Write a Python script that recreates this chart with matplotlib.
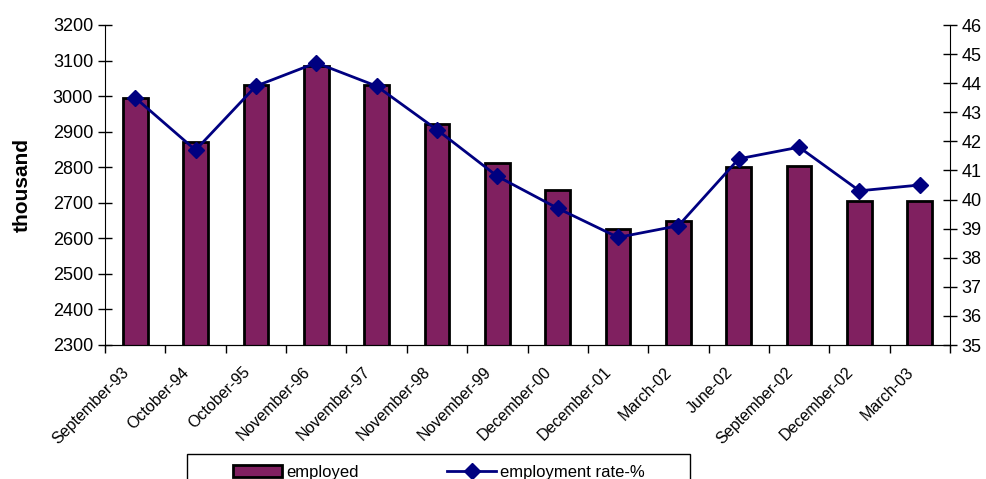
import matplotlib.pyplot as plt
import matplotlib.patches as patches
import matplotlib.transforms as mtransforms
import numpy as np

plt.rcParams['font.family'] = ['Liberation Sans', 'DejaVu Sans']

# data
periods = ['September-93', 'October-94', 'October-95', 'November-96', 'November-97',
           'November-98', 'November-99', 'December-00', 'December-01', 'March-02',
           'June-02', 'September-02', 'December-02', 'March-03']
employed = [2995, 2870, 3030, 3086, 3030, 2921, 2811, 2735, 2627, 2650,
            2800, 2804, 2705, 2705]
rate = [43.5, 41.7, 43.9, 44.7, 43.9, 42.4, 40.8, 39.7, 38.7, 39.1,
        41.4, 41.8, 40.3, 40.5]

W, H = 986, 479
fig = plt.figure(figsize=(W / 100, H / 100), dpi=100)
ax = fig.add_axes([105 / W, 1 - 345 / H, 845 / W, 320 / H])
x = np.arange(len(periods))

bars = ax.bar(x, employed, width=0.41, color='#802060', edgecolor='black',
              linewidth=2, label='employed', zorder=2)
ax.set_ylim(2300, 3200)
ax.set_xlim(-0.5, len(periods) - 0.5)
ax.set_yticks(range(2300, 3201, 100))
ax.set_ylabel('thousand', fontsize=15, fontweight='bold', labelpad=15)
ax.tick_params(axis='y', direction='inout', length=10, labelsize=13, width=1)

# x ticks between categories, labels at centres
ax.set_xticks(np.arange(-0.5, len(periods), 1))
ax.set_xticklabels([])
ax.tick_params(axis='x', direction='out', length=6, width=1)
ax.set_xticks(x, minor=True)
ax.set_xticklabels(periods, minor=True, rotation=45, ha='right',
                   rotation_mode='anchor', fontsize=11.5)
ax.tick_params(axis='x', which='minor', length=0, pad=14)
shift = mtransforms.ScaledTranslation(-14 / 100, 0, fig.dpi_scale_trans)
for lab in ax.get_xticklabels(minor=True):
    lab.set_transform(lab.get_transform() + shift)

ax.spines['top'].set_visible(False)
ax.spines['right'].set_visible(False)

ax2 = ax.twinx()
line, = ax2.plot(x, rate, color='#000080', marker='D', markersize=8.5,
                 linewidth=2, label='employment rate-%', zorder=3)
ax2.set_ylim(35, 46)
ax2.set_yticks(range(35, 47))
ax2.tick_params(axis='y', direction='inout', length=10, labelsize=13, width=1)
ax2.spines['top'].set_visible(False)
ax2.spines['left'].set_visible(False)

# legend box, running off the bottom edge like the original
fig.patches.append(patches.Rectangle((187 / W, -0.05), (690 - 187) / W,
                                     0.05 + 1 - 454 / H, transform=fig.transFigure,
                                     fill=False, edgecolor='black', linewidth=1))
leg = fig.legend([bars, line], ['employed', 'employment rate-%'], ncol=2,
                 loc='center left', bbox_to_anchor=(233 / W, 1 - 472 / H),
                 borderaxespad=0, borderpad=0, frameon=False, fontsize=12,
                 handlelength=2.95, handleheight=0.75, columnspacing=5.3,
                 handletextpad=0.25)

fig.savefig('out.png', dpi=100)
